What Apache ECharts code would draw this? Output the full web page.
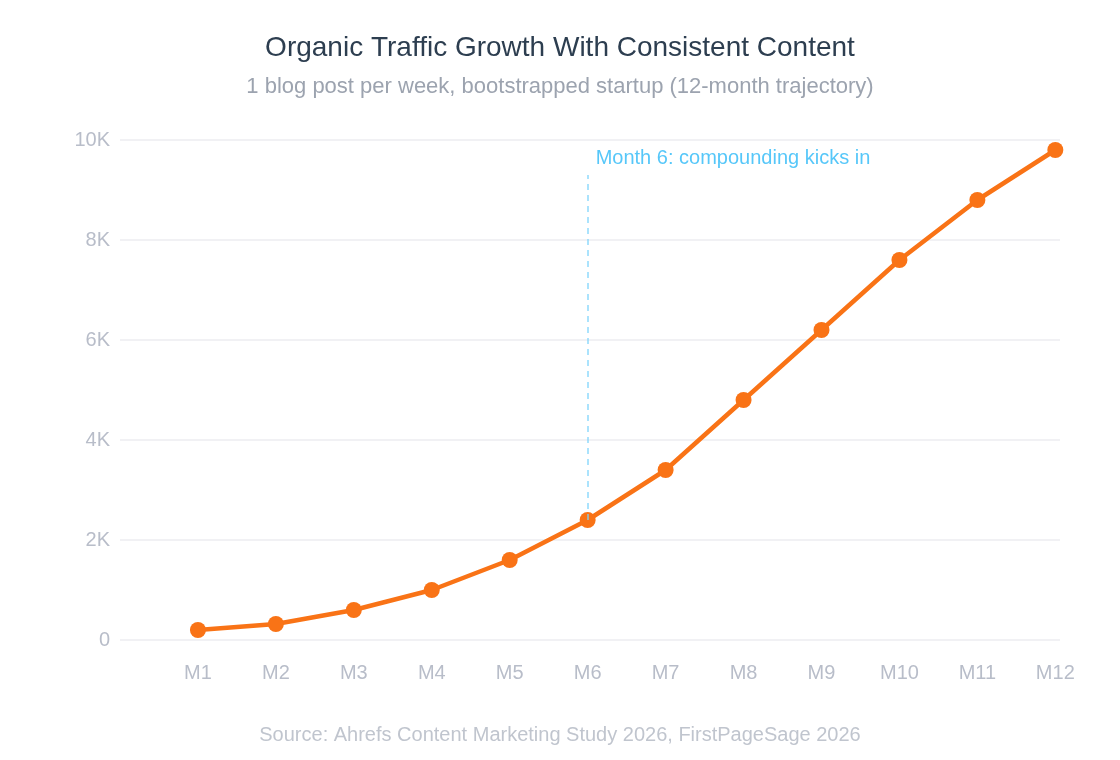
<!DOCTYPE html>
<html>
<head>
<meta charset="utf-8">
<script src="https://cdn.jsdelivr.net/npm/echarts@6/dist/echarts.min.js"></script>
<style>html,body{margin:0;padding:0;background:#fff}#c{width:1120px;height:760px}</style>
</head>
<body>
<div id="c"></div>
<script>
var months = ['M1','M2','M3','M4','M5','M6','M7','M8','M9','M10','M11','M12'];
var traffic = [200, 320, 600, 1000, 1600, 2400, 3400, 4800, 6200, 7600, 8800, 9800];
var yTicks = [0, 2000, 4000, 6000, 8000, 10000];
var annotationMonth = 'M6';
var annotationFrom = 2400;
var annotationTo = 9300;
var annotationText = 'Month 6: compounding kicks in';

var FONT = '"Liberation Sans", Arial, sans-serif';
var sData = months.map(function (m, i) { return [i + 1, traffic[i]]; });
var annX = months.indexOf(annotationMonth) + 1;

var chart = echarts.init(document.getElementById('c'), null, {renderer: 'canvas'});
chart.setOption({
  backgroundColor: '#ffffff',
  animation: false,
  textStyle: {fontFamily: FONT},
  title: [
    {text: 'Organic Traffic Growth With Consistent Content', left: 'center', top: 29,
     textStyle: {fontFamily: FONT, fontSize: 28, fontWeight: 'normal', color: '#2d3e50'}},
    {text: '1 blog post per week, bootstrapped startup (12-month trajectory)', left: 'center', top: 71,
     textStyle: {fontFamily: FONT, fontSize: 22, fontWeight: 'normal', color: '#9ca3af'}},
    {text: 'Source: Ahrefs Content Marketing Study 2026, FirstPageSage 2026', left: 'center', top: 720,
     textStyle: {fontFamily: FONT, fontSize: 20, fontWeight: 'normal', color: '#c0c5ce'}}
  ],
  grid: {left: 120, right: 60, top: 140, bottom: 120, containLabel: false},
  xAxis: {
    type: 'value', min: 0, max: 12.06, interval: 1,
    axisLine: {show: false}, axisTick: {show: false}, splitLine: {show: false},
    axisLabel: {color: '#b8bdc9', fontSize: 20, margin: 23, fontFamily: FONT,
      showMinLabel: false, showMaxLabel: true,
      formatter: function (v) {
        var i = Math.round(v);
        return (Math.abs(v - i) < 1e-6 && i >= 1 && i <= months.length) ? months[i - 1] : '';
      }}
  },
  yAxis: {
    type: 'value', min: yTicks[0], max: yTicks[yTicks.length - 1], interval: yTicks[1] - yTicks[0],
    axisLine: {show: false}, axisTick: {show: false},
    splitLine: {lineStyle: {color: '#ececf0', width: 1.5}},
    axisLabel: {color: '#b8bdc9', fontSize: 20, margin: 10, fontFamily: FONT,
      formatter: function (v) { return v === 0 ? '0' : (v / 1000) + 'K'; }}
  },
  series: [{
    type: 'line', data: sData,
    lineStyle: {color: '#f97316', width: 4.5},
    itemStyle: {color: '#f97316'},
    symbol: 'circle', symbolSize: 16,
    markLine: {
      silent: true, symbol: 'none',
      lineStyle: {color: '#7dd3fc', type: [6, 5], width: 1.5, opacity: 0.85},
      label: {show: true, position: 'end', align: 'left', distance: 7,
        padding: [0, 0, 0, 8], color: '#38bdf8', fontSize: 20, fontFamily: FONT,
        formatter: annotationText},
      data: [[{coord: [annX, annotationFrom]}, {coord: [annX, annotationTo]}]]
    }
  }]
});
</script>
</body>
</html>
